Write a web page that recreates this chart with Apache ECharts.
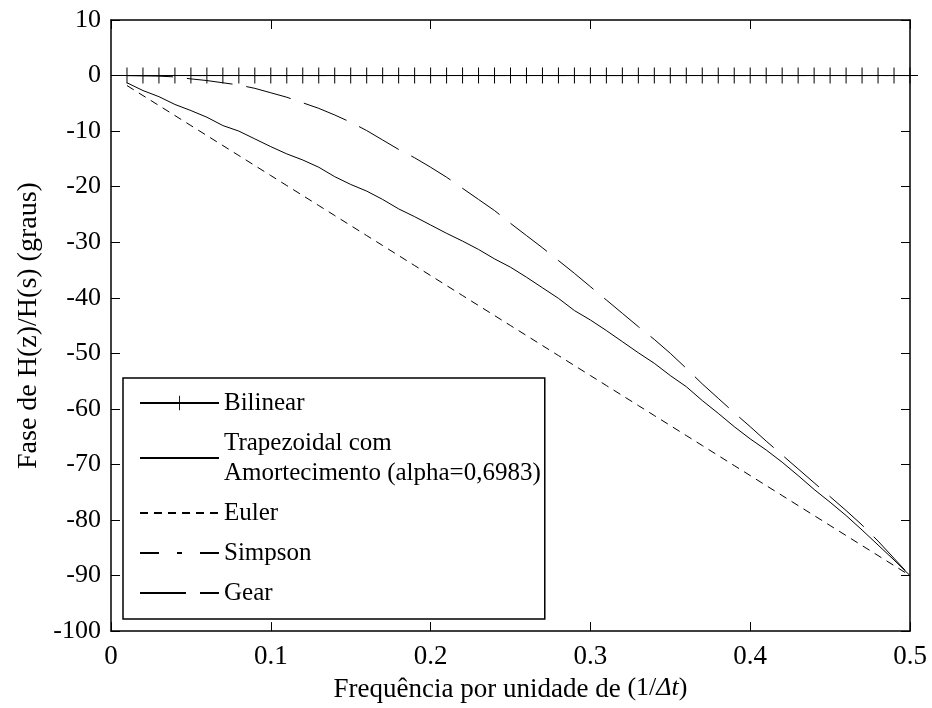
<!DOCTYPE html>
<html>
<head>
<meta charset="utf-8">
<script src="https://cdn.jsdelivr.net/npm/echarts@6/dist/echarts.min.js"></script>
<style>
  html, body { margin: 0; padding: 0; background: #fff; }
  #chart { width: 932px; height: 708px; }
</style>
</head>
<body>
<div id="chart"></div>
<script>
// Frequency in per-unit of 1/Δt
const freq = [0.01, 0.02, 0.03, 0.04, 0.05, 0.06, 0.07, 0.08, 0.09, 0.10,
              0.11, 0.12, 0.13, 0.14, 0.15, 0.16, 0.17, 0.18, 0.19, 0.20,
              0.21, 0.22, 0.23, 0.24, 0.25, 0.26, 0.27, 0.28, 0.29, 0.30,
              0.31, 0.32, 0.33, 0.34, 0.35, 0.36, 0.37, 0.38, 0.39, 0.40,
              0.41, 0.42, 0.43, 0.44, 0.45, 0.46, 0.47, 0.48, 0.49, 0.50];

// Phase of H(z)/H(s) in degrees for each integration rule
const bilinear = [0, 0, 0, 0, 0, 0, 0, 0, 0, 0,
                  0, 0, 0, 0, 0, 0, 0, 0, 0, 0,
                  0, 0, 0, 0, 0, 0, 0, 0, 0, 0,
                  0, 0, 0, 0, 0, 0, 0, 0, 0, 0,
                  0, 0, 0, 0, 0, 0, 0, 0, 0, 0];

const trapDamped = [-1.3, -2.7, -3.8, -5.2, -6.3, -7.5, -9.0, -10.0, -11.4, -12.8,
                    -14.1, -15.2, -16.5, -18.2, -19.6, -20.8, -22.3, -24.0, -25.4, -26.9,
                    -28.4, -29.8, -31.3, -33.0, -34.5, -36.3, -38.2, -40.1, -42.3, -44.0,
                    -45.9, -47.9, -49.9, -51.8, -54.0, -56.0, -58.5, -60.8, -63.2, -65.4,
                    -67.4, -69.6, -72.0, -74.5, -76.8, -79.2, -81.8, -84.5, -87.2, -90.0];

const euler = [-1.8, -3.6, -5.4, -7.2, -9.0, -10.8, -12.6, -14.4, -16.2, -18.0,
               -19.8, -21.6, -23.4, -25.2, -27.0, -28.8, -30.6, -32.4, -34.2, -36.0,
               -37.8, -39.6, -41.4, -43.2, -45.0, -46.8, -48.6, -50.4, -52.2, -54.0,
               -55.8, -57.6, -59.4, -61.2, -63.0, -64.8, -66.6, -68.4, -70.2, -72.0,
               -73.8, -75.6, -77.4, -79.2, -81.0, -82.8, -84.6, -86.4, -88.2, -90.0];

const simpson = [0, 0, 0, 0, 0, 0, 0, 0, 0, 0,
                 0, 0, 0, 0, 0, 0, 0, 0, 0, 0,
                 0, 0, 0, 0, 0, 0, 0, 0, 0, 0,
                 0, 0, 0, 0, 0, 0, 0, 0, 0, 0,
                 0, 0, 0, 0, 0, 0, 0, 0, 0, 0];

const gear = [0.0, -0.05, -0.1, -0.25, -0.6, -0.9, -1.3, -1.7, -2.3, -3.1,
              -3.9, -4.9, -5.9, -7.1, -8.4, -9.9, -11.6, -13.3, -14.8, -16.5,
              -18.3, -20.3, -22.3, -24.3, -26.6, -28.8, -31.0, -33.3, -35.6, -38.0,
              -40.4, -42.8, -45.2, -47.5, -50.0, -52.7, -55.5, -58.1, -60.7, -63.2,
              -65.8, -68.3, -70.8, -73.3, -75.8, -78.3, -80.9, -83.8, -86.9, -90.0];

const seriesNames = ['Bilinear', 'Trapezoidal com\nAmortecimento (alpha=0,6983)', 'Euler', 'Simpson', 'Gear'];

const FONT = 'Liberation Serif';
const INK = '#000';

function pairs(values) {
  return freq.map((f, i) => [f, values[i]]);
}

// thin "+" marker
const plusMarker = 'path://M7.5,0L8.5,0L8.5,16L7.5,16ZM0,7.5L16,7.5L16,8.5L0,8.5Z';

function lineSeries(name, values, dash, extra) {
  return Object.assign({
    name: name,
    type: 'line',
    data: pairs(values),
    symbol: 'none',
    silent: true,
    lineStyle: { color: INK, width: 1, type: dash },
    itemStyle: { color: INK },
    z: 3
  }, extra || {});
}

const frameLine = { show: true, onZero: false, lineStyle: { color: INK, width: 1.5 } };
const innerTick = { show: true, inside: true, length: 9, lineStyle: { color: INK, width: 1 } };

// legend entries: only Bilinear carries a marker, the others show the bare line
const legendData = seriesNames.map((n, i) => i === 0 ? { name: n } : { name: n, itemStyle: { opacity: 0 } });

const chart = echarts.init(document.getElementById('chart'), null, { renderer: 'canvas' });

chart.setOption({
  animation: false,
  backgroundColor: '#fff',
  grid: { left: 111, right: 22, top: 20, bottom: 75, containLabel: false },
  xAxis: [
    {
      type: 'value', position: 'bottom', min: 0, max: 0.5, interval: 0.1,
      axisLine: frameLine, axisTick: innerTick, splitLine: { show: false },
      axisLabel: { color: INK, fontFamily: FONT, fontSize: 27, margin: 12 },
      name: '{t|Frequência por unidade de }{m|(1/}{i|Δt}{m|)}',
      nameLocation: 'middle', nameGap: 43,
      nameTextStyle: {
        color: INK, fontFamily: FONT, fontSize: 26,
        rich: {
          t: { fontFamily: FONT, fontSize: 27, color: INK },
          m: { fontFamily: FONT, fontSize: 26, color: INK, padding: [0, 0, 3, 0] },
          i: { fontFamily: FONT, fontSize: 26, fontStyle: 'italic', color: INK, padding: [0, 0, 3, 0] }
        }
      }
    },
    {
      type: 'value', position: 'top', min: 0, max: 0.5, interval: 0.1,
      axisLine: frameLine, axisTick: innerTick, splitLine: { show: false },
      axisLabel: { show: false }
    }
  ],
  yAxis: [
    {
      type: 'value', position: 'left', min: -100, max: 10, interval: 10,
      axisLine: frameLine, axisTick: innerTick, splitLine: { show: false },
      axisLabel: { color: INK, fontFamily: FONT, fontSize: 26, margin: 10 },
      name: 'Fase de H(z)/H(s) (graus)',
      nameLocation: 'middle', nameGap: 66, nameRotate: 90,
      nameTextStyle: { color: INK, fontFamily: FONT, fontSize: 28 }
    },
    {
      type: 'value', position: 'right', min: -100, max: 10, interval: 10,
      axisLine: frameLine, axisTick: innerTick, splitLine: { show: false },
      axisLabel: { show: false }
    }
  ],
  legend: {
    orient: 'vertical',
    left: 123, top: 378,
    itemWidth: 79, itemHeight: 18, itemGap: 10,
    padding: [10, 4, 11, 16],
    backgroundColor: '#fff',
    borderColor: INK, borderWidth: 1.5,
    selectedMode: false,
    data: legendData,
    textStyle: { color: INK, fontFamily: FONT, fontSize: 25, lineHeight: 30 }
  },
  series: [
    lineSeries(seriesNames[0], bilinear, 'solid', {
      symbol: plusMarker, symbolSize: 16, showSymbol: true, showAllSymbol: true
    }),
    lineSeries(seriesNames[1], trapDamped, 'solid'),
    lineSeries(seriesNames[2], euler, [8, 6]),
    lineSeries(seriesNames[3], simpson, [19, 18, 5, 18]),
    lineSeries(seriesNames[4], gear, [46, 14])
  ]
});
</script>
</body>
</html>
